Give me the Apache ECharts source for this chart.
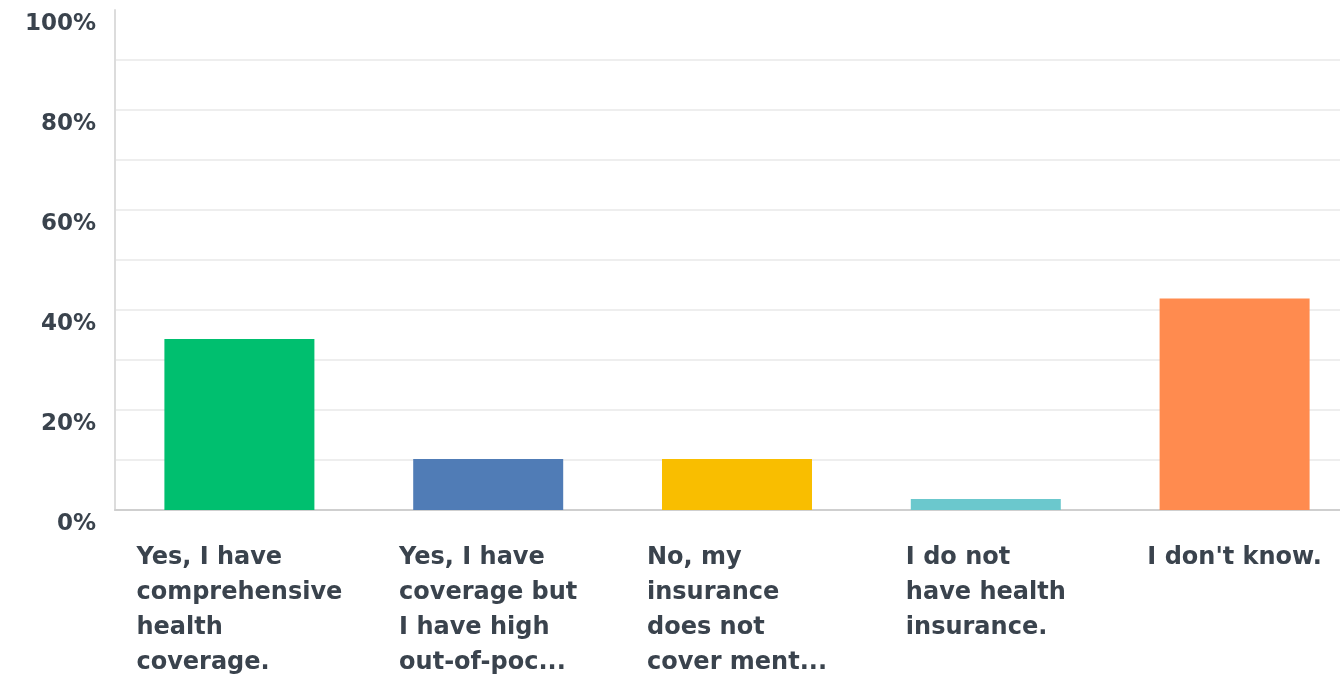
<!DOCTYPE html>
<html>
<head>
<meta charset="utf-8">
<script src="https://cdn.jsdelivr.net/npm/echarts@6/dist/echarts.min.js"></script>
<style>
html,body{margin:0;padding:0;background:#fff;overflow:hidden;width:1340px;height:676px;}
#chart{width:1359px;height:676px;}
</style>
</head>
<body>
<div id="chart"></div>
<script>
const categories = [
  "Yes, I have\ncomprehensive\nhealth\ncoverage.",
  "Yes, I have\ncoverage but\nI have high\nout-of-poc...",
  "No, my\ninsurance\ndoes not\ncover ment...",
  "I do not\nhave health\ninsurance.",
  "I don't know."
];
const values = [34.2, 10.2, 10.2, 2.2, 42.3];
const barColors = ["#00bf6f", "#507cb6", "#f9be00", "#6bc8cd", "#ff8b4f"];
const yTickLabels = [0, 20, 40, 60, 80, 100];

const chart = echarts.init(document.getElementById('chart'), null, {renderer: 'canvas'});
const textColor = '#3a434d';
chart.setOption({
  animation: false,
  grid: {left: 115, right: 0, top: 10, bottom: 166, containLabel: false},
  xAxis: {
    type: 'category',
    data: categories,
    axisLine: {show: true, lineStyle: {color: '#cfcfcf', width: 2}},
    axisTick: {show: false},
    axisLabel: {
      interval: 0,
      margin: 30,
      formatter: v => '{l|' + v.split('\n').join('}\n{l|') + '}',
      rich: {
        l: {align: 'left', fontFamily: 'DejaVu Sans', fontWeight: 'bold', fontSize: 24, lineHeight: 35, color: textColor}
      }
    }
  },
  yAxis: {
    type: 'value',
    min: 0, max: 100, interval: 10,
    axisLine: {show: true, lineStyle: {color: '#dcdcdc', width: 2}},
    axisTick: {show: false},
    splitLine: {show: true, showMaxLine: false, lineStyle: {color: '#eeeeee', width: 2}},
    axisLabel: {
      margin: 19,
      verticalAlign: 'top',
      padding: [3, 0, 0, 0],
      fontFamily: 'DejaVu Sans',
      fontWeight: 'bold',
      fontSize: 23,
      lineHeight: 23,
      color: textColor,
      formatter: v => yTickLabels.includes(v) ? v + '%' : ''
    }
  },
  series: [{
    type: 'bar',
    barWidth: 150,
    data: values.map((v, i) => ({value: v, itemStyle: {color: barColors[i]}}))
  }]
});
</script>
</body>
</html>
